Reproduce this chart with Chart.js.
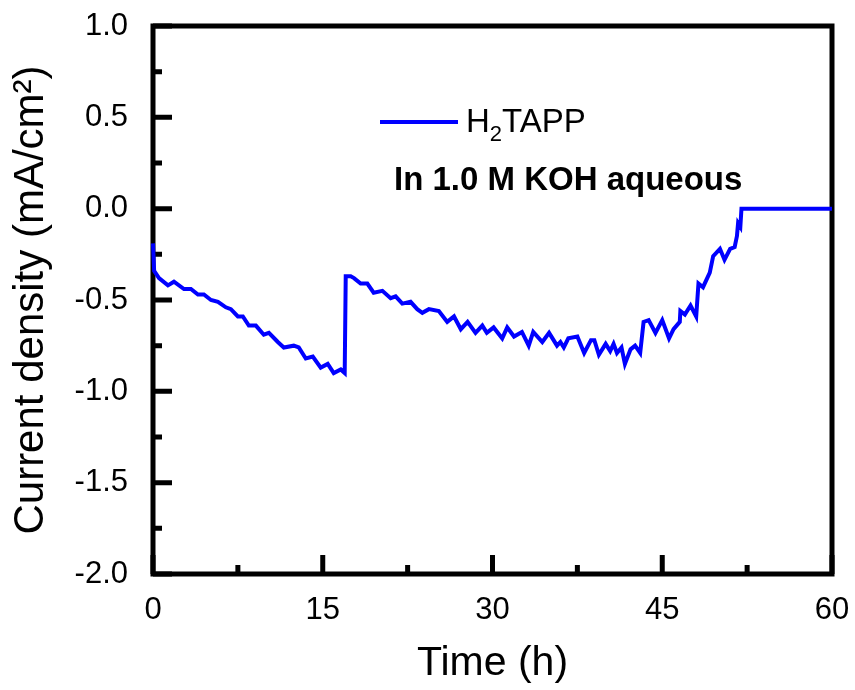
<!DOCTYPE html>
<html>
<head>
<meta charset="utf-8">
<script src="https://cdn.jsdelivr.net/npm/chart.js@4.4.1/dist/chart.umd.min.js"></script>
<style>
html,body{margin:0;padding:0;background:#fff}
#wrap{width:855px;height:690px}
</style>
</head>
<body>
<div id="wrap"><canvas id="c"></canvas></div>
<script>
// values
const timeH=[0,0.1,0.53,1.32,1.85,2.74,3.35,3.97,4.5,5.12,5.74,6.44,6.88,7.5,7.94,8.47,9.09,9.79,10.24,11.03,11.56,12.44,12.88,13.5,14.12,14.82,15.44,15.97,16.59,16.94,
  17.03,17.47,17.76,18.35,18.94,19.5,20.27,21.0,21.44,22.03,22.76,23.35,23.8,24.38,25.26,26.0,26.6,27.2,27.8,28.5,29.1,29.5,30.1,30.86,31.3,31.9,32.6,33.2,33.6,34.4,35.0,35.7,36.0,36.3,36.7,37.5,38.1,38.7,39.0,39.4,40.0,40.4,40.7,41.0,41.4,41.7,42.2,42.6,43.05,
  43.35,43.8,44.4,45.0,45.6,46.0,46.55,46.6,47.0,47.5,48.0,48.2,48.6,49.2,49.5,50.1,50.5,51.0,51.4,51.6,51.7,51.9,52.0,60];
const currentDensity=[-0.19,-0.34,-0.38,-0.42,-0.40,-0.44,-0.44,-0.47,-0.47,-0.50,-0.51,-0.54,-0.55,-0.59,-0.59,-0.64,-0.64,-0.69,-0.68,-0.73,-0.76,-0.75,-0.76,-0.82,-0.81,-0.87,-0.85,-0.90,-0.88,-0.90,
  -0.37,-0.37,-0.38,-0.41,-0.41,-0.46,-0.45,-0.49,-0.48,-0.52,-0.51,-0.55,-0.57,-0.55,-0.56,-0.62,-0.59,-0.66,-0.62,-0.68,-0.64,-0.68,-0.65,-0.71,-0.65,-0.70,-0.675,-0.75,-0.675,-0.73,-0.68,-0.75,-0.73,-0.76,-0.71,-0.70,-0.79,-0.72,-0.72,-0.80,-0.74,-0.78,-0.74,-0.79,-0.76,-0.85,-0.77,-0.75,-0.79,
  -0.62,-0.61,-0.68,-0.61,-0.71,-0.66,-0.62,-0.56,-0.58,-0.53,-0.59,-0.41,-0.43,-0.35,-0.26,-0.22,-0.28,-0.22,-0.21,-0.15,-0.08,-0.10,0,0];
const xTicks=[0,15,30,45,60];
const xMinorTicks=[7.5,22.5,37.5,52.5];
const yTicks=[-2,-1.5,-1,-0.5,0,0.5,1];
const yMinorTicks=[-1.75,-1.25,-0.75,-0.25,0.25,0.75];
const seriesName=['H','2','TAPP'];
const noteText='In 1.0 M KOH aqueous';

const FONT='"Liberation Sans", Arial, sans-serif';
const lineColor='#0000ff';

// frame + inward ticks under the data, legend text on top
const framePlugin={
  id:'frame',
  beforeDatasetsDraw(chart){
    const {ctx,chartArea:a,scales:{x,y}}=chart;
    ctx.save();
    ctx.strokeStyle='#000';
    ctx.lineWidth=5;
    ctx.lineCap='butt';
    ctx.beginPath();
    yTicks.forEach(v=>{const p=y.getPixelForValue(v);ctx.moveTo(a.left,p);ctx.lineTo(a.left+19,p);});
    yMinorTicks.forEach(v=>{const p=y.getPixelForValue(v);ctx.moveTo(a.left,p);ctx.lineTo(a.left+9,p);});
    xTicks.forEach(v=>{const p=x.getPixelForValue(v);ctx.moveTo(p,a.bottom);ctx.lineTo(p,a.bottom-19);});
    xMinorTicks.forEach(v=>{const p=x.getPixelForValue(v);ctx.moveTo(p,a.bottom);ctx.lineTo(p,a.bottom-9);});
    ctx.stroke();
    ctx.lineJoin='miter';
    ctx.strokeRect(a.left,a.top,a.right-a.left,a.bottom-a.top);
    ctx.restore();
  },
  afterDatasetsDraw(chart){
    const {ctx}=chart;
    ctx.save();
    ctx.strokeStyle=lineColor;
    ctx.lineWidth=4;
    ctx.beginPath();ctx.moveTo(380,122);ctx.lineTo(458,122);ctx.stroke();
    ctx.fillStyle='#000';
    ctx.textBaseline='alphabetic';
    ctx.textAlign='left';
    let tx=466;
    ctx.font='33px '+FONT;
    ctx.fillText(seriesName[0],tx,132);tx+=ctx.measureText(seriesName[0]).width;
    ctx.font='22px '+FONT;
    ctx.fillText(seriesName[1],tx,141);tx+=ctx.measureText(seriesName[1]).width;
    ctx.font='33px '+FONT;
    ctx.fillText(seriesName[2],tx,132);
    ctx.font='bold 33px '+FONT;
    ctx.fillText(noteText,394,190);
    ctx.restore();
  }
};

new Chart(document.getElementById('c'),{
  type:'line',
  data:{datasets:[{
    label:seriesName.join(''),
    data:timeH.map((t,i)=>({x:t,y:currentDensity[i]})),
    borderColor:lineColor,
    borderWidth:4,
    pointRadius:0,
    tension:0,
    fill:false,
    clip:false
  }]},
  options:{
    responsive:true,
    maintainAspectRatio:false,
    animation:false,
    devicePixelRatio:1,
    layout:{padding:{left:0,right:23,top:26,bottom:0}},
    plugins:{legend:{display:false},tooltip:{enabled:false}},
    scales:{
      x:{
        type:'linear',min:0,max:60,
        afterBuildTicks:s=>{s.ticks=xTicks.map(v=>({value:v}));},
        afterFit:s=>{s.height=116;s.paddingLeft=0;s.paddingRight=0;},
        grid:{display:false},
        border:{display:false},
        ticks:{color:'#000',font:{family:FONT,size:31},padding:10,maxRotation:0},
        title:{display:true,text:'Time (h)',color:'#000',font:{family:FONT,size:41},padding:{top:0,bottom:2}}
      },
      y:{
        min:-2,max:1,
        afterBuildTicks:s=>{s.ticks=yTicks.map(v=>({value:v}));},
        afterFit:s=>{s.width=153;s.paddingTop=0;s.paddingBottom=0;},
        grid:{display:false},
        border:{display:false},
        ticks:{color:'#000',font:{family:FONT,size:31},padding:17,callback:v=>v.toFixed(1)},
        title:{display:true,text:'Current density (mA/cm²)',color:'#000',font:{family:FONT,size:42},padding:{top:6,bottom:0}}
      }
    }
  },
  plugins:[framePlugin]
});
</script>
</body>
</html>
